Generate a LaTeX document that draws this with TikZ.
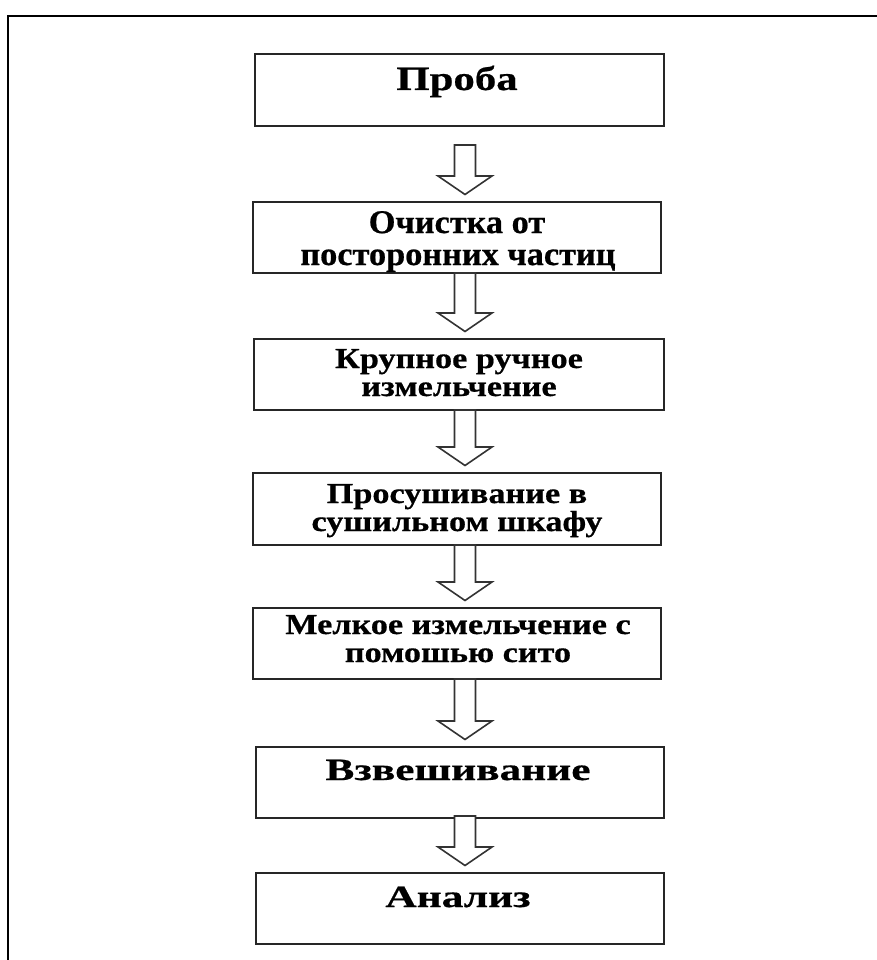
\documentclass[tikz,border=0pt]{standalone}
\usepackage{fontspec}
\setmainfont{Liberation Serif}
\newfontfamily\fntA{Liberation Serif}[FakeStretch=1.04,FakeBold=0.6]
\newfontfamily\fntD{Liberation Serif}[FakeStretch=1.18,FakeBold=0.6]
\newfontfamily\fntB{Liberation Serif}[FakeStretch=1.26,FakeBold=0.6]
\newfontfamily\fntC{Liberation Serif}[FakeStretch=1.4,FakeBold=0.6]
\usetikzlibrary{calc}
\begin{document}
\begin{tikzpicture}[x=1pt,y=1pt,
  stepbox/.style={draw=black!85,line width=1.8pt,rectangle,inner sep=0pt,outer sep=0pt,anchor=north west},
  lbl/.style={font=\fntA\bfseries\fontsize{33}{33}\selectfont,anchor=base,inner sep=0pt,text height=0.62em,text depth=0.12em},
  lblnarrow/.style={font=\fntD\bfseries\fontsize{29}{29}\selectfont,anchor=base,inner sep=0pt,text height=0.62em,text depth=0.12em},
  lblbig/.style={font=\fntB\bfseries\fontsize{34}{34}\selectfont,anchor=base,inner sep=0pt},
  lblwide/.style={font=\fntC\bfseries\fontsize{31}{31}\selectfont,anchor=base,inner sep=0pt},
  harrow/.style={draw=black!80,line width=1.6pt,fill=white,line join=miter}]
\useasboundingbox (0,0) rectangle (877,-960);
% outer frame
\coordinate (ftl) at (8,-16);
\coordinate (fbl) at (8,-962);
\coordinate (ftr) at (879,-16);
\draw[line width=2.6pt,black] (fbl) -- (ftl) -- (ftr);
% boxes
\node[stepbox,minimum width=409pt,minimum height=72pt] (b1) at (255,-54) {};
\node[stepbox,minimum width=408pt,minimum height=71pt] (b2) at (253,-202) {};
\node[stepbox,minimum width=410pt,minimum height=71pt] (b3) at (254,-339) {};
\node[stepbox,minimum width=408pt,minimum height=72pt] (b4) at (253,-473) {};
\node[stepbox,minimum width=408pt,minimum height=71pt] (b5) at (253,-608) {};
\node[stepbox,minimum width=408pt,minimum height=71pt] (b6) at (256,-747) {};
\node[stepbox,minimum width=408pt,minimum height=71pt] (b7) at (256,-873) {};
% labels
\node[lblbig] (t1) at (457,-90) {Проба};
\node[lbl] (t2a) at (457,-233) {Очистка от};
\node[lbl] (t2b) at (458,-265) {посторонних частиц};
\node[lblnarrow] (t3a) at (459,-368) {Крупное ручное};
\node[lblnarrow] (t3b) at (459,-396) {измельчение};
\node[lblnarrow] (t4a) at (457,-503) {Просушивание в};
\node[lblnarrow] (t4b) at (457,-531) {сушильном шкафу};
\node[lblnarrow] (t5a) at (458,-634) {Мелкое измельчение с};
\node[lblnarrow] (t5b) at (458,-662) {помошью сито};
\node[lblwide] (t6) at (458,-780) {Взвешивание};
\node[lblwide] (t7) at (458,-907) {Анализ};
% hollow block arrows
\newcommand\hollowarrow[3]{%
  \draw[harrow] let \p1=(#1.south), \p2=(#2.north) in
   (465pt-10.5pt,\y1-#3) -- (465pt-10.5pt,\y2+26pt) -- (465pt-27pt,\y2+26pt) -- (465pt,\y2+7.5pt)
   -- (465pt+27pt,\y2+26pt) -- (465pt+10.5pt,\y2+26pt) -- (465pt+10.5pt,\y1-#3) -- cycle;}
\hollowarrow{b1}{b2}{19pt}
\hollowarrow{b2}{b3}{0pt}
\hollowarrow{b3}{b4}{0pt}
\hollowarrow{b4}{b5}{0pt}
\hollowarrow{b5}{b6}{0pt}
\hollowarrow{b6}{b7}{-2pt}
\end{tikzpicture}
\end{document}
